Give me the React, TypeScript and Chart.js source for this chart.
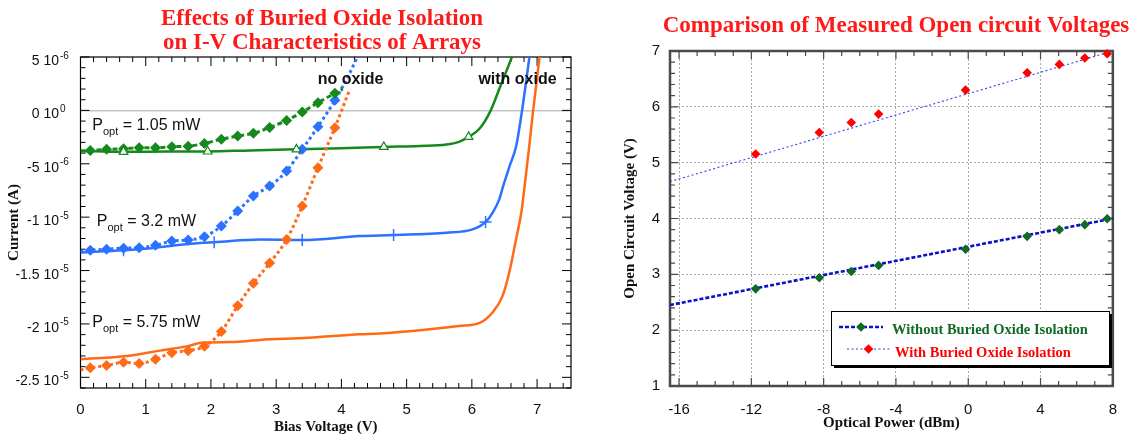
import React, { useEffect, useRef } from 'react';
import { Chart, registerables } from 'chart.js';

Chart.register(...registerables);

const SANS = '"Liberation Sans", Arial, Helvetica, sans-serif';
const SERIF = '"Liberation Serif", "Times New Roman", Times, serif';

// ================= Left panel: I-V characteristics =================
const ivTitleLines = ['Effects of Buried Oxide Isolation', 'on I-V Characteristics of Arrays'];
const ivXLabel = 'Bias Voltage (V)';
const ivYLabel = 'Current (A)';
const ivXTickValues = [0, 1, 2, 3, 4, 5, 6, 7];
const ivYTickValues = [5e-6, 0, -5e-6, -1e-5, -1.5e-5, -2e-5, -2.5e-5];
const ivYTickMantissa = ['5 10', '0 10', '-5 10', '-1 10', '-1.5 10', '-2 10', '-2.5 10'];
const ivYTickExponent = ['-6', '0', '-6', '-5', '-5', '-5', '-5'];
const poptValues = ['1.05 mW', '3.2 mW', '5.75 mW'];
const regionLabels = ['no oxide', 'with oxide'];

// currents below are in microamps (µA)
// without buried oxide (dashed lines with diamonds)
const noOx105V = [0, 0.15, 0.4, 0.66, 0.9, 1.15, 1.4, 1.65, 1.9, 2.16, 2.41, 2.65, 2.9, 3.16, 3.4, 3.64, 3.9, 4.02];
const noOx105I = [-3.8, -3.75, -3.65, -3.6, -3.5, -3.5, -3.4, -3.35, -3.1, -2.7, -2.4, -2.15, -1.6, -0.94, -0.16, 0.72, 1.6, 2.0];
const noOx32V = [0, 0.15, 0.4, 0.66, 0.9, 1.15, 1.4, 1.65, 1.9, 2.16, 2.41, 2.65, 2.9, 3.16, 3.4, 3.64, 3.9, 4.12, 4.32];
const noOx32I = [-13.2, -13.1, -13.0, -12.9, -12.86, -12.64, -12.24, -12.14, -11.83, -10.83, -9.43, -8.02, -7.09, -5.68, -3.65, -1.53, 0.94, 3.4, 6.0];
const noOx575V = [0, 0.15, 0.4, 0.66, 0.9, 1.15, 1.4, 1.65, 1.9, 2.16, 2.41, 2.65, 2.9, 3.16, 3.4, 3.64, 3.9, 4.13];
const noOx575I = [-24.3, -24.1, -23.9, -23.6, -23.7, -23.3, -22.7, -22.5, -22.1, -20.7, -18.3, -16.2, -14.3, -12.1, -8.96, -5.37, -1.62, 2.0];

// with buried oxide (solid lines)
const withOx105V = [0, 0.66, 1.3, 1.95, 2.6, 3.31, 4.0, 4.65, 5.2, 5.61, 5.8, 5.95, 6.12, 6.29, 6.42, 6.62, 6.72];
const withOx105I = [-3.8, -3.88, -3.86, -3.85, -3.75, -3.65, -3.55, -3.42, -3.33, -3.2, -2.95, -2.48, -1.7, 0, 2.0, 5.1, 6.8];
const withOx32V = [0, 0.66, 1.15, 1.5, 1.88, 2.05, 2.75, 3.4, 4.28, 4.8, 5.61, 6.01, 6.21, 6.32, 6.42, 6.48, 6.58, 6.68, 6.77, 6.83, 6.9];
const withOx32I = [-13.3, -13.1, -12.86, -12.6, -12.4, -12.35, -12.1, -12.14, -11.77, -11.67, -11.45, -11.14, -10.46, -9.58, -8.33, -7.1, -5.2, -3.34, 0, 2.6, 5.8];
const withOx575V = [0, 0.71, 1.22, 1.63, 1.88, 2.3, 2.75, 3.5, 4.28, 4.59, 5.35, 5.8, 6.12, 6.32, 6.47, 6.58, 6.68, 6.76, 6.82, 6.88, 6.94, 7.04];
const withOx575I = [-23.3, -23.0, -22.5, -22.1, -21.75, -21.7, -21.5, -21.3, -20.97, -20.9, -20.5, -20.2, -19.9, -18.9, -17.4, -15.0, -12.0, -9.5, -6.5, -3.34, 0, 5.1];

// marker points on the "with oxide" curves
const tri105V = [0.66, 1.95, 3.31, 4.65, 5.95];
const tri105I = [-3.88, -3.85, -3.65, -3.42, -2.48];
const cross32V = [0.66, 2.05, 3.4, 4.8, 6.21];
const cross32I = [-13.1, -12.35, -12.14, -11.67, -10.46];

// ================= Right panel: open circuit voltages =================
const vocTitle = 'Comparison of Measured Open circuit Voltages';
const vocXLabel = 'Optical Power (dBm)';
const vocYLabel = 'Open Circuit Voltage (V)';
const vocXTickValues = [-16, -12, -8, -4, 0, 4, 8];
const vocYTickValues = [1, 2, 3, 4, 5, 6, 7];
const powerDbm = [-11.76, -8.24, -6.47, -4.96, -0.15, 3.26, 5.04, 6.45, 7.69];
const vocWithout = [2.74, 2.94, 3.05, 3.16, 3.45, 3.68, 3.8, 3.89, 3.995];
const vocWith = [5.155, 5.54, 5.72, 5.87, 6.3, 6.61, 6.76, 6.875, 6.95];
const fitPowerDbm = [-16.5, 8];
const fitWithout = [2.45, 4.0];
const fitWith = [4.66, 7.0];
const legendLabels = ['Without Buried Oxide Isolation', 'With Buried Oxide Isolation'];

// ================= styles =================
const GREEN = '#16891c';
const BLUE = '#2b72ff';
const ORANGE = '#ff6a16';
const RED = '#ff0000';
const DKGREEN = '#0f6a26';
const FIT_THICK = '#0a12c8';
const FIT_THIN = '#3b3bf2';
const UA = 1e-6;

const toPts = (xs: number[], ys: number[], k = 1) => xs.map((x, i) => ({ x, y: ys[i] * k }));

type TickSpec = { step: number; major: number; minorLen: number; majorLen: number };

function drawFrameTicks(chart: any, xs: TickSpec, ys: TickSpec, color: string, frameW: number, tickW: number) {
  const { ctx, chartArea: a, scales } = chart;
  const sx = scales.x;
  const sy = scales.y;
  ctx.save();
  ctx.strokeStyle = color;
  ctx.lineWidth = tickW;
  ctx.beginPath();
  const kx0 = Math.ceil(sx.min / xs.step - 1e-6);
  const kx1 = Math.floor(sx.max / xs.step + 1e-6);
  for (let k = kx0; k <= kx1; k++) {
    const p = sx.getPixelForValue(k * xs.step);
    const len = k % xs.major === 0 ? xs.majorLen : xs.minorLen;
    ctx.moveTo(p, a.bottom);
    ctx.lineTo(p, a.bottom - len);
    ctx.moveTo(p, a.top);
    ctx.lineTo(p, a.top + len);
  }
  const ky0 = Math.ceil(sy.min / ys.step - 1e-6);
  const ky1 = Math.floor(sy.max / ys.step + 1e-6);
  for (let k = ky0; k <= ky1; k++) {
    const p = sy.getPixelForValue(k * ys.step);
    const len = k % ys.major === 0 ? ys.majorLen : ys.minorLen;
    ctx.moveTo(a.left, p);
    ctx.lineTo(a.left + len, p);
    ctx.moveTo(a.right, p);
    ctx.lineTo(a.right - len, p);
  }
  ctx.stroke();
  ctx.lineWidth = frameW;
  ctx.strokeRect(a.left, a.top, a.right - a.left, a.bottom - a.top);
  ctx.restore();
}

function drawPopt(ctx: CanvasRenderingContext2D, x: number, y: number, value: string) {
  ctx.font = `16px ${SANS}`;
  ctx.fillText('P', x, y);
  let w = ctx.measureText('P').width;
  ctx.font = `11px ${SANS}`;
  ctx.fillText('opt', x + w, y + 5);
  w += ctx.measureText('opt').width;
  ctx.font = `16px ${SANS}`;
  ctx.fillText(' = ' + value, x + w, y);
}

function makeIvConfig(): any {
  const solid = (label: string, xs: number[], ys: number[], color: string) => ({
    label,
    data: toPts(xs, ys, UA),
    showLine: true,
    borderColor: color,
    borderWidth: 2.5,
    pointRadius: 0,
    cubicInterpolationMode: 'monotone',
    clip: 0,
  });
  const dashed = (label: string, xs: number[], ys: number[], color: string, dash: number[]) => ({
    label,
    data: toPts(xs, ys, UA),
    showLine: true,
    borderColor: color,
    borderWidth: 3,
    borderDash: dash,
    pointStyle: 'rectRot',
    pointRadius: (c: any) => (c.dataIndex >= 1 && c.dataIndex <= 16 ? 5.5 : 0),
    pointBackgroundColor: color,
    pointBorderColor: color,
    pointBorderWidth: 0,
    cubicInterpolationMode: 'monotone',
    clip: 0,
  });
  const annotations = [
    { v: 0.18, i: -1.87e-6, text: poptValues[0] },
    { v: 0.25, i: -1.086e-5, text: poptValues[1] },
    { v: 0.18, i: -2.03e-5, text: poptValues[2] },
  ];
  const regions = [
    { v: 4.14, i: 2.43e-6, text: regionLabels[0] },
    { v: 6.7, i: 2.43e-6, text: regionLabels[1] },
  ];
  const decor = {
    id: 'ivDecor',
    beforeDatasetsDraw(chart: any) {
      drawFrameTicks(
        chart,
        { step: 0.2, major: 5, minorLen: 5, majorLen: 9 },
        { step: 1e-6, major: 5, minorLen: 5, majorLen: 9 },
        '#000',
        1.2,
        1
      );
    },
    afterDraw(chart: any) {
      const { ctx, scales, chartArea } = chart;
      ctx.save();
      ctx.fillStyle = '#ff1a1a';
      ctx.font = `bold 23px ${SERIF}`;
      ctx.textAlign = 'center';
      ctx.textBaseline = 'alphabetic';
      ctx.fillText(ivTitleLines[0], 322, 25);
      ctx.fillText(ivTitleLines[1], 322, 49);

      // y tick labels written as "m 10^e"
      ctx.fillStyle = '#111';
      const mantRight = chartArea.left - 21.5;
      ivYTickValues.forEach((v, i) => {
        const py = scales.y.getPixelForValue(v);
        ctx.textAlign = 'right';
        ctx.font = `14px ${SANS}`;
        ctx.fillText(ivYTickMantissa[i], mantRight, py + 8);
        ctx.textAlign = 'left';
        ctx.font = `10px ${SANS}`;
        ctx.fillText(ivYTickExponent[i], mantRight + 1, py + 1.5);
      });

      ctx.textAlign = 'left';
      for (const a of annotations) {
        drawPopt(ctx, scales.x.getPixelForValue(a.v), scales.y.getPixelForValue(a.i), a.text);
      }
      ctx.font = `bold 16px ${SANS}`;
      ctx.textAlign = 'center';
      for (const r of regions) {
        ctx.fillText(r.text, scales.x.getPixelForValue(r.v), scales.y.getPixelForValue(r.i));
      }
      ctx.restore();
    },
  };
  return {
    type: 'scatter',
    data: {
      datasets: [
        {
          label: 'triangles 1.05 mW',
          data: toPts(tri105V, tri105I, UA),
          showLine: false,
          pointStyle: 'triangle',
          pointRadius: 5,
          pointBorderColor: GREEN,
          pointBackgroundColor: '#ffffff',
          pointBorderWidth: 1.2,
          clip: false,
        },
        {
          label: 'crosses 3.2 mW',
          data: toPts(cross32V, cross32I, UA),
          showLine: false,
          pointStyle: 'cross',
          pointRadius: 6,
          pointBorderColor: BLUE,
          pointBorderWidth: 1.5,
          clip: false,
        },
        dashed('no oxide 1.05 mW', noOx105V, noOx105I, GREEN, [5, 3]),
        dashed('no oxide 3.2 mW', noOx32V, noOx32I, BLUE, [3, 3]),
        dashed('no oxide 5.75 mW', noOx575V, noOx575I, ORANGE, [3, 3]),
        solid('with oxide 1.05 mW', withOx105V, withOx105I, GREEN),
        solid('with oxide 3.2 mW', withOx32V, withOx32I, BLUE),
        solid('with oxide 5.75 mW', withOx575V, withOx575I, ORANGE),
      ],
    },
    options: {
      animation: false,
      responsive: false,
      maintainAspectRatio: false,
      events: [],
      layout: { padding: { left: 0, right: 29, top: 57, bottom: 0 } },
      plugins: { legend: { display: false }, tooltip: { enabled: false }, title: { display: false } },
      scales: {
        x: {
          type: 'linear',
          min: 0,
          max: 7.52,
          afterBuildTicks: (s: any) => {
            s.ticks = ivXTickValues.map((value) => ({ value }));
          },
          afterFit: (s: any) => {
            s.height = 48;
          },
          ticks: {
            autoSkip: false,
            maxRotation: 0,
            padding: 13,
            color: '#111',
            font: { family: SANS, size: 15 },
            callback: (v: any) => String(v),
          },
          grid: { display: false, drawTicks: false },
          border: { display: false },
          title: {
            display: true,
            text: ivXLabel,
            color: '#111',
            font: { family: SERIF, size: 15, weight: 'bold' },
            padding: { top: 0, bottom: 0 },
          },
        },
        y: {
          type: 'linear',
          min: -2.6e-5,
          max: 5e-6,
          afterBuildTicks: (s: any) => {
            s.ticks = ivYTickValues.map((value) => ({ value }));
          },
          afterFit: (s: any) => {
            s.width = 80.5;
          },
          ticks: { display: false },
          grid: {
            drawTicks: false,
            lineWidth: 1.5,
            color: (c: any) => (c.tick && Math.abs(c.tick.value) < 1e-12 ? '#c4c4c4' : 'rgba(0,0,0,0)'),
          },
          border: { display: false },
          title: {
            display: true,
            text: ivYLabel,
            color: '#111',
            font: { family: SERIF, size: 15, weight: 'bold' },
            padding: { top: 5, bottom: 0 },
          },
        },
      },
    },
    plugins: [decor],
  };
}

function drawDiamond(ctx: CanvasRenderingContext2D, x: number, y: number, r: number, color: string) {
  ctx.beginPath();
  ctx.moveTo(x, y - r);
  ctx.lineTo(x + r, y);
  ctx.lineTo(x, y + r);
  ctx.lineTo(x - r, y);
  ctx.closePath();
  ctx.fillStyle = color;
  ctx.fill();
}

function makeVocConfig(): any {
  const fitWithoutDs = {
    label: legendLabels[0] + ' fit',
    data: toPts(fitPowerDbm, fitWithout),
    showLine: true,
    borderColor: FIT_THICK,
    borderWidth: 2.6,
    borderDash: [4, 2],
    pointRadius: 0,
    clip: 0,
  };
  const fitWithDs = {
    label: legendLabels[1] + ' fit',
    data: toPts(fitPowerDbm, fitWith),
    showLine: true,
    borderColor: FIT_THIN,
    borderWidth: 1.1,
    borderDash: [2, 2.5],
    pointRadius: 0,
    clip: 0,
  };
  const withoutPts = {
    label: legendLabels[0],
    data: toPts(powerDbm, vocWithout),
    showLine: false,
    pointStyle: 'rectRot',
    pointRadius: 4.8,
    pointBackgroundColor: DKGREEN,
    pointBorderColor: DKGREEN,
    pointBorderWidth: 0,
    clip: false,
  };
  const withPts = {
    label: legendLabels[1],
    data: toPts(powerDbm, vocWith),
    showLine: false,
    pointStyle: 'rectRot',
    pointRadius: 4.8,
    pointBackgroundColor: RED,
    pointBorderColor: RED,
    pointBorderWidth: 0,
    clip: false,
  };
  const legendRows = [
    { line: fitWithoutDs, color: DKGREEN, x0: 239, x1: 283, y: 327, tx: 292, ty: 330 },
    { line: fitWithDs, color: RED, x0: 247, x1: 290, y: 349, tx: 295, ty: 353 },
  ];
  const decor = {
    id: 'vocDecor',
    beforeDatasetsDraw(chart: any) {
      drawFrameTicks(
        chart,
        { step: 1, major: 4, minorLen: 5, majorLen: 8 },
        { step: 0.2, major: 5, minorLen: 5, majorLen: 8 },
        '#4a4a4a',
        2.5,
        1.2
      );
    },
    afterDraw(chart: any) {
      const { ctx } = chart;
      ctx.save();
      ctx.fillStyle = '#ff1a1a';
      ctx.font = `bold 23px ${SERIF}`;
      ctx.textAlign = 'center';
      ctx.textBaseline = 'alphabetic';
      ctx.fillText(vocTitle, 296, 32);

      // legend box with shadow
      const bx = 231, by = 311, bw = 278, bh = 54;
      ctx.fillStyle = '#000';
      ctx.fillRect(bx + 3, by + 3, bw, bh);
      ctx.fillStyle = '#fff';
      ctx.fillRect(bx, by, bw, bh);
      ctx.strokeStyle = '#000';
      ctx.lineWidth = 1;
      ctx.strokeRect(bx + 0.5, by + 0.5, bw, bh);
      ctx.textAlign = 'left';
      ctx.textBaseline = 'middle';
      ctx.font = `bold 14.5px ${SERIF}`;
      legendRows.forEach((r, i) => {
        ctx.save();
        ctx.strokeStyle = r.line.borderColor;
        ctx.lineWidth = r.line.borderWidth;
        ctx.setLineDash(r.line.borderDash);
        ctx.beginPath();
        ctx.moveTo(r.x0, r.y);
        ctx.lineTo(r.x1, r.y);
        ctx.stroke();
        ctx.restore();
        drawDiamond(ctx, (r.x0 + r.x1) / 2, r.y, 4.8, r.color);
        ctx.fillStyle = r.color;
        ctx.fillText(legendLabels[i], r.tx, r.ty);
      });
      ctx.restore();
    },
  };
  return {
    type: 'scatter',
    data: { datasets: [withPts, withoutPts, fitWithDs, fitWithoutDs] },
    options: {
      animation: false,
      responsive: false,
      maintainAspectRatio: false,
      events: [],
      layout: { padding: { left: 0, right: 14.5, top: 51, bottom: 0 } },
      plugins: { legend: { display: false }, tooltip: { enabled: false }, title: { display: false } },
      scales: {
        x: {
          type: 'linear',
          min: -16.5,
          max: 8,
          afterBuildTicks: (s: any) => {
            s.ticks = vocXTickValues.map((value) => ({ value }));
          },
          afterFit: (s: any) => {
            s.height = 50;
          },
          ticks: {
            autoSkip: false,
            maxRotation: 0,
            padding: 15,
            color: '#111',
            font: { family: SANS, size: 15 },
            callback: (v: any) => String(v),
          },
          grid: { drawTicks: false, color: '#a9a9a9', lineWidth: 1 },
          border: { display: false, dash: [2, 2] },
          title: {
            display: true,
            text: vocXLabel,
            color: '#111',
            font: { family: SERIF, size: 15, weight: 'bold' },
            padding: { top: 0, bottom: 4 },
          },
        },
        y: {
          type: 'linear',
          min: 1,
          max: 7,
          afterBuildTicks: (s: any) => {
            s.ticks = vocYTickValues.map((value) => ({ value }));
          },
          afterFit: (s: any) => {
            s.width = 70;
          },
          ticks: {
            autoSkip: false,
            padding: 10,
            color: '#111',
            font: { family: SANS, size: 15 },
            callback: (v: any) => String(v),
          },
          grid: { drawTicks: false, color: '#a9a9a9', lineWidth: 1 },
          border: { display: false, dash: [2, 2] },
          title: {
            display: true,
            text: vocYLabel,
            color: '#111',
            font: { family: SERIF, size: 15, weight: 'bold' },
            padding: { top: 21, bottom: 0 },
          },
        },
      },
    },
    plugins: [decor],
  };
}

function ChartCanvas({ left, width, height, make }: any) {
  const ref = useRef<HTMLCanvasElement | null>(null);
  useEffect(() => {
    if (!ref.current) return;
    const chart = new Chart(ref.current, make());
    return () => chart.destroy();
  }, [make]);
  return (
    <canvas
      ref={ref}
      width={width}
      height={height}
      style={{ position: 'absolute', left, top: 0, width, height }}
    />
  );
}

export default function App() {
  return (
    <div
      style={{
        position: 'fixed',
        left: 0,
        top: 0,
        width: 1132,
        height: 436,
        background: '#ffffff',
        overflow: 'hidden',
      }}
    >
      <ChartCanvas left={0} width={600} height={436} make={makeIvConfig} />
      <ChartCanvas left={600} width={532} height={436} make={makeVocConfig} />
    </div>
  );
}
